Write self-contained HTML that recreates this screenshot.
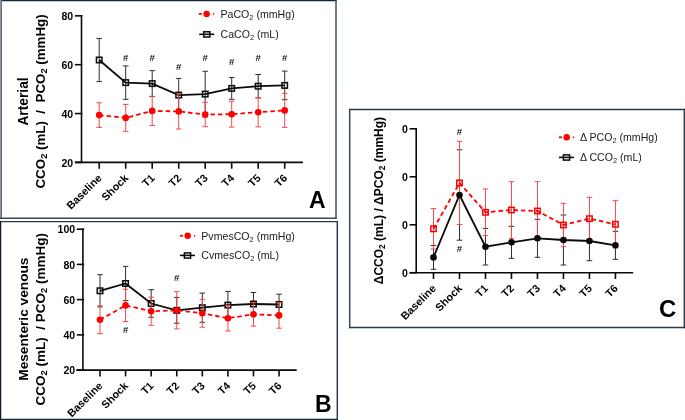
<!DOCTYPE html>
<html><head><meta charset="utf-8"><style>
html,body{margin:0;padding:0;background:#fff;width:685px;height:420px;overflow:hidden}
svg{display:block;will-change:transform}
</style></head><body>
<svg width="685" height="420" viewBox="0 0 685 420" font-family='"Liberation Sans", sans-serif'><rect width="685" height="420" fill="#fff"/><line x1="0" y1="0.6" x2="336.7" y2="0.6" stroke="#14273a" stroke-width="1.3"/><line x1="0.5" y1="0" x2="0.5" y2="218.9" stroke="#8a95a0" stroke-width="1"/><line x1="1.5" y1="0" x2="1.5" y2="218.9" stroke="#5f6e7a" stroke-width="1"/><line x1="336.0" y1="0" x2="336.0" y2="218.9" stroke="#3e5262" stroke-width="1.5"/><line x1="0" y1="218.2" x2="336.7" y2="218.2" stroke="#3a4c5a" stroke-width="1.4"/><line x1="0" y1="221.55" x2="338" y2="221.55" stroke="#27394a" stroke-width="1.3"/><line x1="0.6" y1="220.9" x2="0.6" y2="420" stroke="#0c1c2a" stroke-width="1.3"/><line x1="337.3" y1="220.9" x2="337.3" y2="420" stroke="#2c3f4f" stroke-width="1.5"/><line x1="0" y1="419.4" x2="338" y2="419.4" stroke="#13283a" stroke-width="1.3"/><line x1="349" y1="109.5" x2="685" y2="109.5" stroke="#263848" stroke-width="1.5"/><line x1="349.7" y1="108.8" x2="349.7" y2="328.2" stroke="#34485a" stroke-width="1.5"/><line x1="684.3" y1="108.8" x2="684.3" y2="328.2" stroke="#2c3f4f" stroke-width="1.4"/><line x1="349" y1="327.5" x2="685" y2="327.5" stroke="#2a3d4a" stroke-width="1.5"/><g><line x1="81.5" y1="15.049999999999999" x2="81.5" y2="162.4" stroke="#0a0a0a" stroke-width="1.6"/><line x1="74.9" y1="15.85" x2="82.3" y2="15.85" stroke="#0a0a0a" stroke-width="1.6"/><text x="73.2" y="20.05" text-anchor="end" font-weight="bold" font-size="10.5" fill="#000">80</text><line x1="74.9" y1="64.7" x2="82.3" y2="64.7" stroke="#0a0a0a" stroke-width="1.6"/><text x="73.2" y="68.9" text-anchor="end" font-weight="bold" font-size="10.5" fill="#000">60</text><line x1="74.9" y1="113.55" x2="82.3" y2="113.55" stroke="#0a0a0a" stroke-width="1.6"/><text x="73.2" y="117.75" text-anchor="end" font-weight="bold" font-size="10.5" fill="#000">40</text><line x1="74.9" y1="162.4" x2="82.3" y2="162.4" stroke="#0a0a0a" stroke-width="1.6"/><text x="73.2" y="166.6" text-anchor="end" font-weight="bold" font-size="10.5" fill="#000">20</text><line x1="74.9" y1="162.4" x2="302.9" y2="162.4" stroke="#0a0a0a" stroke-width="1.6"/><line x1="99.2" y1="162.4" x2="99.2" y2="168.70000000000002" stroke="#0a0a0a" stroke-width="1.6"/><text x="102.40" y="178.70" text-anchor="end" font-weight="bold" font-size="10.8" fill="#000" transform="rotate(-45 102.40 178.70)">Baseline</text><line x1="125.7" y1="162.4" x2="125.7" y2="168.70000000000002" stroke="#0a0a0a" stroke-width="1.6"/><text x="128.90" y="178.70" text-anchor="end" font-weight="bold" font-size="10.8" fill="#000" transform="rotate(-45 128.90 178.70)">Shock</text><line x1="152.2" y1="162.4" x2="152.2" y2="168.70000000000002" stroke="#0a0a0a" stroke-width="1.6"/><text x="155.40" y="178.70" text-anchor="end" font-weight="bold" font-size="10.8" fill="#000" transform="rotate(-45 155.40 178.70)">T1</text><line x1="178.7" y1="162.4" x2="178.7" y2="168.70000000000002" stroke="#0a0a0a" stroke-width="1.6"/><text x="181.90" y="178.70" text-anchor="end" font-weight="bold" font-size="10.8" fill="#000" transform="rotate(-45 181.90 178.70)">T2</text><line x1="205.2" y1="162.4" x2="205.2" y2="168.70000000000002" stroke="#0a0a0a" stroke-width="1.6"/><text x="208.40" y="178.70" text-anchor="end" font-weight="bold" font-size="10.8" fill="#000" transform="rotate(-45 208.40 178.70)">T3</text><line x1="231.7" y1="162.4" x2="231.7" y2="168.70000000000002" stroke="#0a0a0a" stroke-width="1.6"/><text x="234.90" y="178.70" text-anchor="end" font-weight="bold" font-size="10.8" fill="#000" transform="rotate(-45 234.90 178.70)">T4</text><line x1="258.2" y1="162.4" x2="258.2" y2="168.70000000000002" stroke="#0a0a0a" stroke-width="1.6"/><text x="261.40" y="178.70" text-anchor="end" font-weight="bold" font-size="10.8" fill="#000" transform="rotate(-45 261.40 178.70)">T5</text><line x1="284.7" y1="162.4" x2="284.7" y2="168.70000000000002" stroke="#0a0a0a" stroke-width="1.6"/><text x="287.90" y="178.70" text-anchor="end" font-weight="bold" font-size="10.8" fill="#000" transform="rotate(-45 287.90 178.70)">T6</text><path d="M99.20 38.40V81.60M96.40 38.40H102.00M96.40 81.60H102.00" stroke="#2e2e2e" stroke-width="1.0" fill="none"/><path d="M125.70 65.90V99.30M122.90 65.90H128.50M122.90 99.30H128.50" stroke="#2e2e2e" stroke-width="1.0" fill="none"/><path d="M152.20 70.60V96.60M149.40 70.60H155.00M149.40 96.60H155.00" stroke="#2e2e2e" stroke-width="1.0" fill="none"/><path d="M178.70 78.40V111.80M175.90 78.40H181.50M175.90 111.80H181.50" stroke="#2e2e2e" stroke-width="1.0" fill="none"/><path d="M205.20 71.25V116.95M202.40 71.25H208.00M202.40 116.95H208.00" stroke="#2e2e2e" stroke-width="1.0" fill="none"/><path d="M231.70 77.50V99.30M228.90 77.50H234.50M228.90 99.30H234.50" stroke="#2e2e2e" stroke-width="1.0" fill="none"/><path d="M258.20 74.50V97.90M255.40 74.50H261.00M255.40 97.90H261.00" stroke="#2e2e2e" stroke-width="1.0" fill="none"/><path d="M284.70 71.10V99.70M281.90 71.10H287.50M281.90 99.70H287.50" stroke="#2e2e2e" stroke-width="1.0" fill="none"/><polyline points="99.20,60.00 125.70,82.60 152.20,83.60 178.70,95.10 205.20,94.10 231.70,88.40 258.20,86.20 284.70,85.40" stroke="#0a0a0a" stroke-width="1.8" fill="none"/><rect x="96.45" y="57.25" width="5.5" height="5.5" stroke="#0a0a0a" stroke-width="1.5" fill="none"/><rect x="122.95" y="79.85" width="5.5" height="5.5" stroke="#0a0a0a" stroke-width="1.5" fill="none"/><rect x="149.45" y="80.85" width="5.5" height="5.5" stroke="#0a0a0a" stroke-width="1.5" fill="none"/><rect x="175.95" y="92.35" width="5.5" height="5.5" stroke="#0a0a0a" stroke-width="1.5" fill="none"/><rect x="202.45" y="91.35" width="5.5" height="5.5" stroke="#0a0a0a" stroke-width="1.5" fill="none"/><rect x="228.95" y="85.65" width="5.5" height="5.5" stroke="#0a0a0a" stroke-width="1.5" fill="none"/><rect x="255.45" y="83.45" width="5.5" height="5.5" stroke="#0a0a0a" stroke-width="1.5" fill="none"/><rect x="281.95" y="82.65" width="5.5" height="5.5" stroke="#0a0a0a" stroke-width="1.5" fill="none"/><path d="M99.20 102.80V127.40M96.40 102.80H102.00M96.40 127.40H102.00" stroke="#f24a4a" stroke-width="1.0" fill="none"/><path d="M125.70 104.40V131.40M122.90 104.40H128.50M122.90 131.40H128.50" stroke="#f24a4a" stroke-width="1.0" fill="none"/><path d="M152.20 96.30V125.50M149.40 96.30H155.00M149.40 125.50H155.00" stroke="#f24a4a" stroke-width="1.0" fill="none"/><path d="M178.70 93.80V129.00M175.90 93.80H181.50M175.90 129.00H181.50" stroke="#f24a4a" stroke-width="1.0" fill="none"/><path d="M205.20 102.30V126.70M202.40 102.30H208.00M202.40 126.70H208.00" stroke="#f24a4a" stroke-width="1.0" fill="none"/><path d="M231.70 101.30V127.10M228.90 101.30H234.50M228.90 127.10H234.50" stroke="#f24a4a" stroke-width="1.0" fill="none"/><path d="M258.20 97.50V126.90M255.40 97.50H261.00M255.40 126.90H261.00" stroke="#f24a4a" stroke-width="1.0" fill="none"/><path d="M284.70 93.40V127.40M281.90 93.40H287.50M281.90 127.40H287.50" stroke="#f24a4a" stroke-width="1.0" fill="none"/><polyline points="99.20,115.10 125.70,117.90 152.20,110.90 178.70,111.40 205.20,114.50 231.70,114.20 258.20,112.20 284.70,110.40" stroke="#ff0000" stroke-width="1.8" fill="none" stroke-dasharray="4.5 3"/><circle cx="99.20" cy="115.10" r="3.3" fill="#ff0000"/><circle cx="125.70" cy="117.90" r="3.3" fill="#ff0000"/><circle cx="152.20" cy="110.90" r="3.3" fill="#ff0000"/><circle cx="178.70" cy="111.40" r="3.3" fill="#ff0000"/><circle cx="205.20" cy="114.50" r="3.3" fill="#ff0000"/><circle cx="231.70" cy="114.20" r="3.3" fill="#ff0000"/><circle cx="258.20" cy="112.20" r="3.3" fill="#ff0000"/><circle cx="284.70" cy="110.40" r="3.3" fill="#ff0000"/><text x="125.70" y="61.20" text-anchor="middle" font-size="9.6" font-weight="bold" fill="#111">#</text><text x="152.20" y="61.20" text-anchor="middle" font-size="9.6" font-weight="bold" fill="#111">#</text><text x="178.70" y="69.90" text-anchor="middle" font-size="9.6" font-weight="bold" fill="#111">#</text><text x="205.20" y="61.30" text-anchor="middle" font-size="9.6" font-weight="bold" fill="#111">#</text><text x="231.70" y="64.50" text-anchor="middle" font-size="9.6" font-weight="bold" fill="#111">#</text><text x="258.20" y="60.90" text-anchor="middle" font-size="9.6" font-weight="bold" fill="#111">#</text><text x="284.70" y="60.90" text-anchor="middle" font-size="9.6" font-weight="bold" fill="#111">#</text><line x1="198.8" y1="13.9" x2="201.8" y2="13.9" stroke="#ff0000" stroke-width="1.8"/><circle cx="206.60000000000002" cy="13.9" r="3.2" fill="#ff0000"/><line x1="212.8" y1="13.9" x2="214.10000000000002" y2="13.9" stroke="#ff0000" stroke-width="1.6"/><text x="220.5" y="17.6" font-size="10.6" fill="#1a1a1a">PaCO<tspan baseline-shift="-22%" font-size="70%">2</tspan> (mmHg)</text><line x1="199.2" y1="34.3" x2="214.2" y2="34.3" stroke="#0a0a0a" stroke-width="1.6"/><rect x="203.7" y="31.799999999999997" width="6.2" height="5.2" stroke="#0a0a0a" stroke-width="1.5" fill="none"/><text x="220.5" y="38.0" font-size="10.6" fill="#1a1a1a">CaCO<tspan baseline-shift="-22%" font-size="70%">2</tspan> (mL)</text><text transform="translate(28.3 101.45) rotate(-90)" text-anchor="middle" font-weight="bold" font-size="13.8" fill="#000" xml:space="preserve">Arterial</text><text transform="translate(45.2 101.4) rotate(-90)" text-anchor="middle" font-weight="bold" font-size="13.35" fill="#000" xml:space="preserve">CCO<tspan baseline-shift="-22%" font-size="70%">2</tspan> (mL)  /  PCO<tspan baseline-shift="-22%" font-size="70%">2</tspan> (mmHg)</text><text x="309" y="207.8" font-weight="bold" font-size="23" fill="#000">A</text></g><g><line x1="82.9" y1="228.39999999999998" x2="82.9" y2="370.1" stroke="#0a0a0a" stroke-width="1.6"/><line x1="76.80000000000001" y1="229.2" x2="84.2" y2="229.2" stroke="#0a0a0a" stroke-width="1.6"/><text x="75.10000000000001" y="233.39999999999998" text-anchor="end" font-weight="bold" font-size="10.5" fill="#000">100</text><line x1="76.80000000000001" y1="264.4" x2="84.2" y2="264.4" stroke="#0a0a0a" stroke-width="1.6"/><text x="75.10000000000001" y="268.59999999999997" text-anchor="end" font-weight="bold" font-size="10.5" fill="#000">80</text><line x1="76.80000000000001" y1="299.6" x2="84.2" y2="299.6" stroke="#0a0a0a" stroke-width="1.6"/><text x="75.10000000000001" y="303.8" text-anchor="end" font-weight="bold" font-size="10.5" fill="#000">60</text><line x1="76.80000000000001" y1="334.9" x2="84.2" y2="334.9" stroke="#0a0a0a" stroke-width="1.6"/><text x="75.10000000000001" y="339.09999999999997" text-anchor="end" font-weight="bold" font-size="10.5" fill="#000">40</text><line x1="76.80000000000001" y1="370.1" x2="84.2" y2="370.1" stroke="#0a0a0a" stroke-width="1.6"/><text x="75.10000000000001" y="374.3" text-anchor="end" font-weight="bold" font-size="10.5" fill="#000">20</text><line x1="76.30000000000001" y1="370.1" x2="296.7" y2="370.1" stroke="#0a0a0a" stroke-width="1.6"/><line x1="100.0" y1="370.1" x2="100.0" y2="376.40000000000003" stroke="#0a0a0a" stroke-width="1.6"/><text x="103.20" y="386.40" text-anchor="end" font-weight="bold" font-size="10.8" fill="#000" transform="rotate(-45 103.20 386.40)">Baseline</text><line x1="125.58" y1="370.1" x2="125.58" y2="376.40000000000003" stroke="#0a0a0a" stroke-width="1.6"/><text x="128.78" y="386.40" text-anchor="end" font-weight="bold" font-size="10.8" fill="#000" transform="rotate(-45 128.78 386.40)">Shock</text><line x1="151.16" y1="370.1" x2="151.16" y2="376.40000000000003" stroke="#0a0a0a" stroke-width="1.6"/><text x="154.36" y="386.40" text-anchor="end" font-weight="bold" font-size="10.8" fill="#000" transform="rotate(-45 154.36 386.40)">T1</text><line x1="176.74" y1="370.1" x2="176.74" y2="376.40000000000003" stroke="#0a0a0a" stroke-width="1.6"/><text x="179.94" y="386.40" text-anchor="end" font-weight="bold" font-size="10.8" fill="#000" transform="rotate(-45 179.94 386.40)">T2</text><line x1="202.32" y1="370.1" x2="202.32" y2="376.40000000000003" stroke="#0a0a0a" stroke-width="1.6"/><text x="205.52" y="386.40" text-anchor="end" font-weight="bold" font-size="10.8" fill="#000" transform="rotate(-45 205.52 386.40)">T3</text><line x1="227.89999999999998" y1="370.1" x2="227.89999999999998" y2="376.40000000000003" stroke="#0a0a0a" stroke-width="1.6"/><text x="231.10" y="386.40" text-anchor="end" font-weight="bold" font-size="10.8" fill="#000" transform="rotate(-45 231.10 386.40)">T4</text><line x1="253.48" y1="370.1" x2="253.48" y2="376.40000000000003" stroke="#0a0a0a" stroke-width="1.6"/><text x="256.68" y="386.40" text-anchor="end" font-weight="bold" font-size="10.8" fill="#000" transform="rotate(-45 256.68 386.40)">T5</text><line x1="279.06" y1="370.1" x2="279.06" y2="376.40000000000003" stroke="#0a0a0a" stroke-width="1.6"/><text x="282.26" y="386.40" text-anchor="end" font-weight="bold" font-size="10.8" fill="#000" transform="rotate(-45 282.26 386.40)">T6</text><path d="M100.00 274.70V306.90M97.20 274.70H102.80M97.20 306.90H102.80" stroke="#2e2e2e" stroke-width="1.0" fill="none"/><path d="M125.58 266.40V300.60M122.78 266.40H128.38M122.78 300.60H128.38" stroke="#2e2e2e" stroke-width="1.0" fill="none"/><path d="M151.16 289.70V317.30M148.36 289.70H153.96M148.36 317.30H153.96" stroke="#2e2e2e" stroke-width="1.0" fill="none"/><path d="M176.74 297.40V323.20M173.94 297.40H179.54M173.94 323.20H179.54" stroke="#2e2e2e" stroke-width="1.0" fill="none"/><path d="M202.32 293.10V322.30M199.52 293.10H205.12M199.52 322.30H205.12" stroke="#2e2e2e" stroke-width="1.0" fill="none"/><path d="M227.90 291.40V318.80M225.10 291.40H230.70M225.10 318.80H230.70" stroke="#2e2e2e" stroke-width="1.0" fill="none"/><path d="M253.48 292.50V315.50M250.68 292.50H256.28M250.68 315.50H256.28" stroke="#2e2e2e" stroke-width="1.0" fill="none"/><path d="M279.06 294.20V314.80M276.26 294.20H281.86M276.26 314.80H281.86" stroke="#2e2e2e" stroke-width="1.0" fill="none"/><polyline points="100.00,290.80 125.58,283.50 151.16,303.50 176.74,310.30 202.32,307.70 227.90,305.10 253.48,304.00 279.06,304.50" stroke="#0a0a0a" stroke-width="1.8" fill="none"/><rect x="97.25" y="288.05" width="5.5" height="5.5" stroke="#0a0a0a" stroke-width="1.5" fill="none"/><rect x="122.83" y="280.75" width="5.5" height="5.5" stroke="#0a0a0a" stroke-width="1.5" fill="none"/><rect x="148.41" y="300.75" width="5.5" height="5.5" stroke="#0a0a0a" stroke-width="1.5" fill="none"/><rect x="173.99" y="307.55" width="5.5" height="5.5" stroke="#0a0a0a" stroke-width="1.5" fill="none"/><rect x="199.57" y="304.95" width="5.5" height="5.5" stroke="#0a0a0a" stroke-width="1.5" fill="none"/><rect x="225.15" y="302.35" width="5.5" height="5.5" stroke="#0a0a0a" stroke-width="1.5" fill="none"/><rect x="250.73" y="301.25" width="5.5" height="5.5" stroke="#0a0a0a" stroke-width="1.5" fill="none"/><rect x="276.31" y="301.75" width="5.5" height="5.5" stroke="#0a0a0a" stroke-width="1.5" fill="none"/><path d="M100.00 305.90V333.70M97.20 305.90H102.80M97.20 333.70H102.80" stroke="#f24a4a" stroke-width="1.0" fill="none"/><path d="M125.58 289.30V321.50M122.78 289.30H128.38M122.78 321.50H128.38" stroke="#f24a4a" stroke-width="1.0" fill="none"/><path d="M151.16 297.10V325.30M148.36 297.10H153.96M148.36 325.30H153.96" stroke="#f24a4a" stroke-width="1.0" fill="none"/><path d="M176.74 291.70V328.90M173.94 291.70H179.54M173.94 328.90H179.54" stroke="#f24a4a" stroke-width="1.0" fill="none"/><path d="M202.32 299.40V327.20M199.52 299.40H205.12M199.52 327.20H205.12" stroke="#f24a4a" stroke-width="1.0" fill="none"/><path d="M227.90 305.40V331.00M225.10 305.40H230.70M225.10 331.00H230.70" stroke="#f24a4a" stroke-width="1.0" fill="none"/><path d="M253.48 302.50V326.10M250.68 302.50H256.28M250.68 326.10H256.28" stroke="#f24a4a" stroke-width="1.0" fill="none"/><path d="M279.06 302.60V328.20M276.26 302.60H281.86M276.26 328.20H281.86" stroke="#f24a4a" stroke-width="1.0" fill="none"/><polyline points="100.00,319.80 125.58,305.40 151.16,311.20 176.74,310.30 202.32,313.30 227.90,318.20 253.48,314.30 279.06,315.40" stroke="#ff0000" stroke-width="1.8" fill="none" stroke-dasharray="4.5 3"/><circle cx="100.00" cy="319.80" r="3.3" fill="#ff0000"/><circle cx="125.58" cy="305.40" r="3.3" fill="#ff0000"/><circle cx="151.16" cy="311.20" r="3.3" fill="#ff0000"/><circle cx="176.74" cy="310.30" r="3.3" fill="#ff0000"/><circle cx="202.32" cy="313.30" r="3.3" fill="#ff0000"/><circle cx="227.90" cy="318.20" r="3.3" fill="#ff0000"/><circle cx="253.48" cy="314.30" r="3.3" fill="#ff0000"/><circle cx="279.06" cy="315.40" r="3.3" fill="#ff0000"/><text x="125.58" y="333.20" text-anchor="middle" font-size="9.6" font-weight="bold" fill="#111">#</text><text x="176.74" y="281.10" text-anchor="middle" font-size="9.6" font-weight="bold" fill="#111">#</text><line x1="179.9" y1="235.8" x2="182.9" y2="235.8" stroke="#ff0000" stroke-width="1.8"/><circle cx="187.70000000000002" cy="235.8" r="3.2" fill="#ff0000"/><line x1="193.9" y1="235.8" x2="195.20000000000002" y2="235.8" stroke="#ff0000" stroke-width="1.6"/><text x="201.3" y="239.5" font-size="10.6" fill="#1a1a1a">PvmesCO<tspan baseline-shift="-22%" font-size="70%">2</tspan> (mmHg)</text><line x1="179.9" y1="255.4" x2="194.9" y2="255.4" stroke="#0a0a0a" stroke-width="1.6"/><rect x="184.4" y="252.9" width="6.2" height="5.2" stroke="#0a0a0a" stroke-width="1.5" fill="none"/><text x="201.3" y="259.1" font-size="10.6" fill="#1a1a1a">CvmesCO<tspan baseline-shift="-22%" font-size="70%">2</tspan> (mL)</text><text transform="translate(28.1 319.15) rotate(-90)" text-anchor="middle" font-weight="bold" font-size="13.7" fill="#000" xml:space="preserve">Mesenteric venous</text><text transform="translate(45.4 319.25) rotate(-90)" text-anchor="middle" font-weight="bold" font-size="13.5" fill="#000" xml:space="preserve">CCO<tspan baseline-shift="-22%" font-size="70%">2</tspan> (mL)  / PCO<tspan baseline-shift="-22%" font-size="70%">2</tspan> (mmHg)</text><text x="315" y="411.5" font-weight="bold" font-size="23" fill="#000">B</text></g><g><line x1="416.2" y1="128.0" x2="416.2" y2="272.7" stroke="#0a0a0a" stroke-width="1.6"/><line x1="409.59999999999997" y1="128.8" x2="417.0" y2="128.8" stroke="#0a0a0a" stroke-width="1.6"/><text x="407.9" y="133.0" text-anchor="end" font-weight="bold" font-size="10.5" fill="#000">0</text><line x1="409.59999999999997" y1="176.8" x2="417.0" y2="176.8" stroke="#0a0a0a" stroke-width="1.6"/><text x="407.9" y="181.0" text-anchor="end" font-weight="bold" font-size="10.5" fill="#000">0</text><line x1="409.59999999999997" y1="224.8" x2="417.0" y2="224.8" stroke="#0a0a0a" stroke-width="1.6"/><text x="407.9" y="229.0" text-anchor="end" font-weight="bold" font-size="10.5" fill="#000">0</text><line x1="409.59999999999997" y1="272.7" x2="417.0" y2="272.7" stroke="#0a0a0a" stroke-width="1.6"/><text x="407.9" y="276.9" text-anchor="end" font-weight="bold" font-size="10.5" fill="#000">0</text><line x1="409.59999999999997" y1="272.7" x2="633.2" y2="272.7" stroke="#0a0a0a" stroke-width="1.6"/><line x1="433.5" y1="272.7" x2="433.5" y2="279.0" stroke="#0a0a0a" stroke-width="1.6"/><text x="436.70" y="289.00" text-anchor="end" font-weight="bold" font-size="10.8" fill="#000" transform="rotate(-45 436.70 289.00)">Baseline</text><line x1="459.49" y1="272.7" x2="459.49" y2="279.0" stroke="#0a0a0a" stroke-width="1.6"/><text x="462.69" y="289.00" text-anchor="end" font-weight="bold" font-size="10.8" fill="#000" transform="rotate(-45 462.69 289.00)">Shock</text><line x1="485.48" y1="272.7" x2="485.48" y2="279.0" stroke="#0a0a0a" stroke-width="1.6"/><text x="488.68" y="289.00" text-anchor="end" font-weight="bold" font-size="10.8" fill="#000" transform="rotate(-45 488.68 289.00)">T1</text><line x1="511.47" y1="272.7" x2="511.47" y2="279.0" stroke="#0a0a0a" stroke-width="1.6"/><text x="514.67" y="289.00" text-anchor="end" font-weight="bold" font-size="10.8" fill="#000" transform="rotate(-45 514.67 289.00)">T2</text><line x1="537.46" y1="272.7" x2="537.46" y2="279.0" stroke="#0a0a0a" stroke-width="1.6"/><text x="540.66" y="289.00" text-anchor="end" font-weight="bold" font-size="10.8" fill="#000" transform="rotate(-45 540.66 289.00)">T3</text><line x1="563.45" y1="272.7" x2="563.45" y2="279.0" stroke="#0a0a0a" stroke-width="1.6"/><text x="566.65" y="289.00" text-anchor="end" font-weight="bold" font-size="10.8" fill="#000" transform="rotate(-45 566.65 289.00)">T4</text><line x1="589.44" y1="272.7" x2="589.44" y2="279.0" stroke="#0a0a0a" stroke-width="1.6"/><text x="592.64" y="289.00" text-anchor="end" font-weight="bold" font-size="10.8" fill="#000" transform="rotate(-45 592.64 289.00)">T5</text><line x1="615.43" y1="272.7" x2="615.43" y2="279.0" stroke="#0a0a0a" stroke-width="1.6"/><text x="618.63" y="289.00" text-anchor="end" font-weight="bold" font-size="10.8" fill="#000" transform="rotate(-45 618.63 289.00)">T6</text><path d="M433.50 245.50V269.30M430.70 245.50H436.30M430.70 269.30H436.30" stroke="#2e2e2e" stroke-width="1.0" fill="none"/><path d="M459.49 149.80V240.20M456.69 149.80H462.29M456.69 240.20H462.29" stroke="#2e2e2e" stroke-width="1.0" fill="none"/><path d="M485.48 228.40V265.00M482.68 228.40H488.28M482.68 265.00H488.28" stroke="#2e2e2e" stroke-width="1.0" fill="none"/><path d="M511.47 226.30V258.30M508.67 226.30H514.27M508.67 258.30H514.27" stroke="#2e2e2e" stroke-width="1.0" fill="none"/><path d="M537.46 219.30V257.30M534.66 219.30H540.26M534.66 257.30H540.26" stroke="#2e2e2e" stroke-width="1.0" fill="none"/><path d="M563.45 215.00V265.00M560.65 215.00H566.25M560.65 265.00H566.25" stroke="#2e2e2e" stroke-width="1.0" fill="none"/><path d="M589.44 221.30V260.70M586.64 221.30H592.24M586.64 260.70H592.24" stroke="#2e2e2e" stroke-width="1.0" fill="none"/><path d="M615.43 231.30V259.30M612.63 231.30H618.23M612.63 259.30H618.23" stroke="#2e2e2e" stroke-width="1.0" fill="none"/><path d="M433.50 208.60V249.00M430.70 208.60H436.30M430.70 249.00H436.30" stroke="#f24a4a" stroke-width="1.0" fill="none"/><path d="M459.49 141.30V224.50M456.69 141.30H462.29M456.69 224.50H462.29" stroke="#f24a4a" stroke-width="1.0" fill="none"/><path d="M485.48 189.00V235.60M482.68 189.00H488.28M482.68 235.60H488.28" stroke="#f24a4a" stroke-width="1.0" fill="none"/><path d="M511.47 181.70V238.30M508.67 181.70H514.27M508.67 238.30H514.27" stroke="#f24a4a" stroke-width="1.0" fill="none"/><path d="M537.46 181.70V240.30M534.66 181.70H540.26M534.66 240.30H540.26" stroke="#f24a4a" stroke-width="1.0" fill="none"/><path d="M563.45 203.30V246.70M560.65 203.30H566.25M560.65 246.70H566.25" stroke="#f24a4a" stroke-width="1.0" fill="none"/><path d="M589.44 197.30V240.10M586.64 197.30H592.24M586.64 240.10H592.24" stroke="#f24a4a" stroke-width="1.0" fill="none"/><path d="M615.43 200.70V247.90M612.63 200.70H618.23M612.63 247.90H618.23" stroke="#f24a4a" stroke-width="1.0" fill="none"/><polyline points="433.50,228.80 459.49,182.90 485.48,212.30 511.47,210.00 537.46,211.00 563.45,225.00 589.44,218.70 615.43,224.30" stroke="#ff0000" stroke-width="1.8" fill="none" stroke-dasharray="4.5 3"/><rect x="430.80" y="226.10" width="5.4" height="5.4" stroke="#ff0000" stroke-width="1.5" fill="none"/><rect x="456.79" y="180.20" width="5.4" height="5.4" stroke="#ff0000" stroke-width="1.5" fill="none"/><rect x="482.78" y="209.60" width="5.4" height="5.4" stroke="#ff0000" stroke-width="1.5" fill="none"/><rect x="508.77" y="207.30" width="5.4" height="5.4" stroke="#ff0000" stroke-width="1.5" fill="none"/><rect x="534.76" y="208.30" width="5.4" height="5.4" stroke="#ff0000" stroke-width="1.5" fill="none"/><rect x="560.75" y="222.30" width="5.4" height="5.4" stroke="#ff0000" stroke-width="1.5" fill="none"/><rect x="586.74" y="216.00" width="5.4" height="5.4" stroke="#ff0000" stroke-width="1.5" fill="none"/><rect x="612.73" y="221.60" width="5.4" height="5.4" stroke="#ff0000" stroke-width="1.5" fill="none"/><polyline points="433.50,257.40 459.49,195.00 485.48,246.70 511.47,242.30 537.46,238.30 563.45,240.00 589.44,241.00 615.43,245.30" stroke="#0a0a0a" stroke-width="1.8" fill="none"/><circle cx="433.50" cy="257.40" r="3.3" fill="#0a0a0a"/><circle cx="459.49" cy="195.00" r="3.3" fill="#0a0a0a"/><circle cx="485.48" cy="246.70" r="3.3" fill="#0a0a0a"/><circle cx="511.47" cy="242.30" r="3.3" fill="#0a0a0a"/><circle cx="537.46" cy="238.30" r="3.3" fill="#0a0a0a"/><circle cx="563.45" cy="240.00" r="3.3" fill="#0a0a0a"/><circle cx="589.44" cy="241.00" r="3.3" fill="#0a0a0a"/><circle cx="615.43" cy="245.30" r="3.3" fill="#0a0a0a"/><text x="459.49" y="135.20" text-anchor="middle" font-size="9.6" font-weight="bold" fill="#111">#</text><text x="459.49" y="251.60" text-anchor="middle" font-size="9.6" font-weight="bold" fill="#111">#</text><line x1="558.9" y1="137.3" x2="561.9" y2="137.3" stroke="#ff0000" stroke-width="1.8"/><circle cx="566.6999999999999" cy="137.3" r="3.2" fill="#ff0000"/><line x1="572.9" y1="137.3" x2="574.1999999999999" y2="137.3" stroke="#ff0000" stroke-width="1.6"/><text x="580" y="141.0" font-size="10.6" fill="#1a1a1a">Δ PCO<tspan baseline-shift="-22%" font-size="70%">2</tspan> (mmHg)</text><line x1="558.9" y1="157.4" x2="573.9" y2="157.4" stroke="#0a0a0a" stroke-width="1.6"/><rect x="563.4" y="154.9" width="6.2" height="5.2" stroke="#0a0a0a" stroke-width="1.5" fill="none"/><text x="580" y="161.1" font-size="10.6" fill="#1a1a1a">Δ CCO<tspan baseline-shift="-22%" font-size="70%">2</tspan> (mL)</text><text transform="translate(382.5 200.55) rotate(-90)" text-anchor="middle" font-weight="bold" font-size="12.0" fill="#000" xml:space="preserve">ΔCCO<tspan baseline-shift="-22%" font-size="70%">2</tspan> (mL) / ΔPCO<tspan baseline-shift="-22%" font-size="70%">2</tspan> (mmHg)</text><text x="659" y="317.2" font-weight="bold" font-size="24" fill="#000">C</text></g></svg>
</body></html>
